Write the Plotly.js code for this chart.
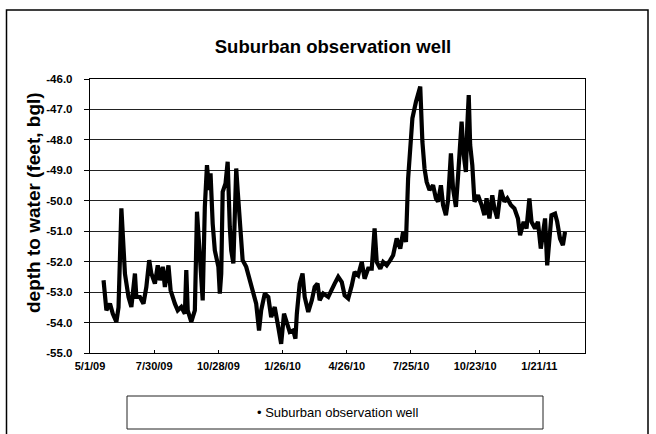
<!DOCTYPE html>
<html>
<head>
<meta charset="utf-8">
<script src="https://cdn.plot.ly/plotly-3.0.1.min.js"></script>
<style>html,body{margin:0;padding:0;background:#fff;}#chart{width:656px;height:434px;}</style>
</head>
<body>
<div id="chart"></div>
<script>
const dates = [
"2009-05-20","2009-05-24","2009-05-29","2009-06-02","2009-06-07","2009-06-10","2009-06-14","2009-06-19","2009-06-24","2009-06-28",
"2009-07-03","2009-07-05","2009-07-10","2009-07-15","2009-07-19","2009-07-23","2009-07-26","2009-07-31","2009-08-04","2009-08-07",
"2009-08-11","2009-08-14","2009-08-19","2009-08-22","2009-08-28","2009-09-01","2009-09-06","2009-09-11","2009-09-13","2009-09-15",
"2009-09-20","2009-09-25","2009-09-28","2009-10-02","2009-10-06","2009-10-09","2009-10-12","2009-10-15","2009-10-17","2009-10-20",
"2009-10-23","2009-10-28","2009-10-30","2009-11-01","2009-11-03","2009-11-07","2009-11-10","2009-11-13","2009-11-15","2009-11-18",
"2009-11-22","2009-11-24","2009-11-28","2009-12-01","2009-12-06","2009-12-11","2009-12-15","2009-12-20","2009-12-24","2009-12-27",
"2010-01-01","2010-01-06","2010-01-10","2010-01-15","2010-01-20","2010-01-24","2010-01-28","2010-01-31","2010-02-05","2010-02-10",
"2010-02-13","2010-02-15","2010-02-19","2010-02-23","2010-02-26","2010-03-03","2010-03-08","2010-03-12","2010-03-16","2010-03-19",
"2010-03-24","2010-03-31","2010-04-04","2010-04-09","2010-04-14","2010-04-19","2010-04-23","2010-04-28","2010-05-03","2010-05-07",
"2010-05-12","2010-05-17","2010-05-21","2010-05-26","2010-05-31","2010-06-04","2010-06-07","2010-06-12","2010-06-16","2010-06-21",
"2010-06-26","2010-06-30","2010-07-05","2010-07-10","2010-07-14","2010-07-18","2010-07-21","2010-07-24","2010-07-27","2010-08-01",
"2010-08-04","2010-08-07","2010-08-10","2010-08-13","2010-08-16","2010-08-20","2010-08-25","2010-08-29","2010-09-01","2010-09-05",
"2010-09-08","2010-09-12","2010-09-15","2010-09-19","2010-09-22","2010-09-26","2010-09-29","2010-10-04","2010-10-07","2010-10-10",
"2010-10-12","2010-10-14","2010-10-16","2010-10-19","2010-10-22","2010-10-27","2010-11-01","2010-11-05","2010-11-08","2010-11-12",
"2010-11-16","2010-11-19","2010-11-23","2010-11-28","2010-12-03","2010-12-07","2010-12-12","2010-12-17","2010-12-22","2010-12-25",
"2010-12-30","2011-01-03","2011-01-07","2011-01-10","2011-01-15","2011-01-19","2011-01-23","2011-01-26","2011-01-29","2011-02-01",
"2011-02-04","2011-02-07","2011-02-12","2011-02-15","2011-02-19","2011-02-23","2011-02-26"
];
const depth = [
-52.61,-53.60,-53.38,-53.71,-53.98,-53.50,-50.25,-52.40,-53.16,-53.49,
-52.39,-53.16,-53.16,-53.38,-52.83,-51.95,-52.39,-52.72,-52.12,-52.61,
-52.17,-52.83,-52.12,-52.94,-53.38,-53.60,-53.49,-53.71,-52.28,-53.60,
-53.98,-53.60,-50.36,-52.12,-53.27,-50.20,-48.83,-49.65,-49.10,-50.75,
-51.63,-52.17,-53.05,-52.39,-49.71,-49.43,-48.72,-50.86,-51.63,-52.06,
-48.94,-49.65,-51.30,-51.95,-52.17,-52.61,-52.94,-53.38,-54.26,-53.60,
-53.05,-53.16,-53.82,-53.49,-54.15,-54.70,-53.71,-53.93,-54.31,-54.26,
-54.53,-53.71,-52.72,-52.39,-53.16,-53.65,-53.27,-52.83,-52.72,-53.27,
-53.05,-53.16,-52.94,-52.72,-52.50,-52.67,-53.11,-53.21,-52.78,-52.34,
-52.45,-52.01,-52.56,-52.23,-52.23,-50.91,-52.01,-52.23,-52.01,-52.12,
-51.95,-51.79,-51.24,-51.57,-51.02,-51.35,-49.27,-48.06,-47.29,-46.75,
-46.53,-46.25,-48.06,-48.94,-49.38,-49.65,-49.49,-49.92,-50.03,-49.49,
-50.14,-50.47,-49.98,-48.44,-49.60,-50.20,-49.20,-47.40,-48.50,-49.05,
-47.51,-46.53,-48.17,-48.83,-50.03,-49.82,-50.14,-50.47,-49.92,-50.58,
-49.82,-50.25,-50.58,-49.65,-50.03,-49.92,-50.14,-50.25,-50.58,-51.13,
-50.69,-50.91,-49.92,-50.69,-50.91,-50.69,-51.57,-51.02,-50.58,-52.12,
-51.13,-50.47,-50.42,-50.69,-51.24,-51.46,-51.02
];
const xTickVals = ["2009-05-01","2009-07-30","2009-10-28","2010-01-26","2010-04-26","2010-07-25","2010-10-23","2011-01-21"];
const xTickText = ["5/1/09","7/30/09","10/28/09","1/26/10","4/26/10","7/25/10","10/23/10","1/21/11"];
const yTickVals = [-55,-54,-53,-52,-51,-50,-49,-48,-47,-46];
const yTickText = ["-55.0","-54.0","-53.0","-52.0","-51.0","-50.0","-49.0","-48.0","-47.0","-46.0"];
const seriesName = "Suburban observation well";
const chartTitle = "Suburban observation well";
const yTitle = "depth to water (feet, bgl)";

const font = "Liberation Sans, Arial, sans-serif";
// pixel helpers for paper coords (plot area: x 90..585, y 79..353)
const L = 90, R = 71, T = 79, B = 81, W = 656, H = 434;
const pw = W - L - R, ph = H - T - B;
const px = v => (v - L) / pw;
const py = v => (H - B - v) / ph;

const trace = {
  x: dates, y: depth, type: "scatter", mode: "lines", name: seriesName,
  line: {color: "#000", width: 4.2, shape: "linear"}, showlegend: false
};

const layout = {
  width: W, height: H,
  margin: {l: L, r: R, t: T, b: B},
  paper_bgcolor: "#fff", plot_bgcolor: "#fff",
  font: {family: font, color: "#000"},
  title: {text: chartTitle, font: {family: font, size: 18.5, weight: "bold", color: "#000"},
          xref: "container", yref: "container", x: 333 / W, xanchor: "center", y: 1 - 47 / H, yanchor: "middle"},
  xaxis: {
    type: "date", range: ["2009-05-01", "2011-03-26"],
    tickvals: xTickVals, ticktext: xTickText, tickmode: "array",
    ticks: "inside", ticklen: 3, tickcolor: "#000", tickwidth: 1,
    tickfont: {family: font, size: 11, weight: "bold", color: "#000"},
    ticklabelstandoff: 3,
    showgrid: false, showline: true, linecolor: "#000", linewidth: 1.2, mirror: true,
    zeroline: false, fixedrange: true
  },
  yaxis: {
    range: [-55, -46], tickmode: "array", tickvals: yTickVals, ticktext: yTickText,
    ticks: "outside", ticklen: 5, tickcolor: "#000", tickwidth: 1,
    tickfont: {family: font, size: 11.5, weight: "bold", color: "#000"},
    ticklabelstandoff: 9,
    showgrid: true, gridcolor: "#222", gridwidth: 1,
    showline: true, linecolor: "#000", linewidth: 1.2, mirror: true,
    zeroline: false, fixedrange: true
  },
  shapes: [
    {type: "rect", xref: "paper", yref: "paper", x0: px(6.5), x1: px(648), y0: py(445), y1: py(10),
     line: {color: "#000", width: 1.5}, fillcolor: "rgba(0,0,0,0)", layer: "below"},
    {type: "rect", xref: "paper", yref: "paper", x0: px(127), x1: px(543), y0: py(429), y1: py(396),
     line: {color: "#222", width: 1}, fillcolor: "rgba(0,0,0,0)"}
  ],
  annotations: [
    {text: yTitle, xref: "paper", yref: "paper", x: px(33), y: py(203), textangle: -90,
     showarrow: false, xanchor: "center", yanchor: "middle",
     font: {family: font, size: 19, weight: "bold", color: "#000"}},
    {text: "\u2022 " + seriesName, xref: "paper", yref: "paper", x: px(337), y: py(412.5),
     showarrow: false, xanchor: "center", yanchor: "middle",
     font: {family: font, size: 13, color: "#000"}}
  ]
};

Plotly.newPlot("chart", [trace], layout, {staticPlot: true, displayModeBar: false});
</script>
</body>
</html>
